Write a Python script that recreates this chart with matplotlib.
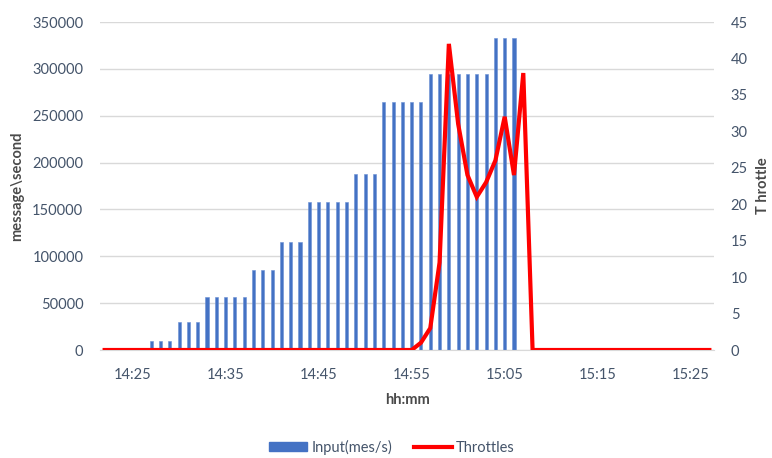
import matplotlib
matplotlib.use("Agg")
import matplotlib.pyplot as plt
from matplotlib.patches import Patch
from matplotlib.lines import Line2D

plt.rcParams['font.family'] = ['Lato', 'DejaVu Sans']

# categories: one per minute, 14:22 .. 15:27
times = ["14:22", "14:23", "14:24", "14:25", "14:26", "14:27", "14:28", "14:29",
         "14:30", "14:31", "14:32", "14:33", "14:34", "14:35", "14:36", "14:37",
         "14:38", "14:39", "14:40", "14:41", "14:42", "14:43", "14:44", "14:45",
         "14:46", "14:47", "14:48", "14:49", "14:50", "14:51", "14:52", "14:53",
         "14:54", "14:55", "14:56", "14:57", "14:58", "14:59", "15:00", "15:01",
         "15:02", "15:03", "15:04", "15:05", "15:06", "15:07", "15:08", "15:09",
         "15:10", "15:11", "15:12", "15:13", "15:14", "15:15", "15:16", "15:17",
         "15:18", "15:19", "15:20", "15:21", "15:22", "15:23", "15:24", "15:25",
         "15:26", "15:27"]

input_rate = [0, 0, 0, 0, 0,
              10000, 10000, 10000,
              30000, 30000, 30000,
              57000, 57000, 57000, 57000, 57000,
              85000, 85000, 85000,
              115000, 115000, 115000,
              158000, 158000, 158000, 158000, 158000,
              188000, 188000, 188000,
              265000, 265000, 265000, 265000, 265000,
              295000, 295000, 295000, 295000, 295000, 295000, 295000,
              333000, 333000, 333000,
              0, 0, 0, 0, 0, 0, 0, 0, 0, 0, 0, 0, 0, 0, 0, 0, 0, 0, 0, 0, 0]

throttles = [0, 0, 0, 0, 0, 0, 0, 0, 0, 0, 0, 0, 0, 0, 0, 0, 0, 0, 0, 0,
             0, 0, 0, 0, 0, 0, 0, 0, 0, 0, 0, 0, 0, 0,
             1, 3, 12, 42, 31, 24, 21, 23, 26, 32, 24, 38,
             0, 0, 0, 0, 0, 0, 0, 0, 0, 0, 0, 0, 0, 0, 0, 0, 0, 0, 0, 0]

shown_ticks = ["14:25", "14:35", "14:45", "14:55", "15:05", "15:15", "15:25"]

text_col = '#44546A'
label_col = '#4a4a4a'

fig = plt.figure(figsize=(7.72, 4.58), dpi=100)
ax = fig.add_axes([100/772, 1-350/458, 614/772, 328/458])
x = list(range(len(times)))
ax.bar(x, input_rate, width=0.33, color='#4472C4', edgecolor='#6A8FD4', linewidth=0.4, zorder=2)
ax.set_xlim(-0.5, len(times)-0.5)
ax.set_ylim(0, 350000)
ax.set_yticks(range(0, 350001, 50000))
ax.grid(axis='y', color='#D9D9D9', linewidth=1, zorder=0)
ax.set_axisbelow(True)
for s in ['top', 'right', 'left']:
    ax.spines[s].set_visible(False)
ax.spines['bottom'].set_color('#D9D9D9')
ax.tick_params(axis='both', length=0, labelsize=10.5, colors=text_col)
ax.tick_params(axis='y', pad=12)
ax.tick_params(axis='x', pad=13)
ax.set_xticks([times.index(t) for t in shown_ticks])
ax.set_xticklabels(shown_ticks)
ax.set_xlabel('hh:mm', fontsize=10.5, fontweight='bold', color=label_col, labelpad=8)
ax.set_ylabel('message\\second', fontsize=10.5, fontweight='bold', color=label_col, labelpad=6)

ax2 = ax.twinx()
ax2.plot(x, throttles, color='#FF0000', linewidth=3, solid_joinstyle='miter', zorder=3)
ax2.set_ylim(0, 45)
ax2.set_yticks(range(0, 46, 5))
for s in ['top', 'right', 'left', 'bottom']:
    ax2.spines[s].set_visible(False)
ax2.tick_params(axis='y', length=0, labelsize=10.5, colors=text_col, pad=12)
ax2.set_ylabel('T hrottle', fontsize=10.5, fontweight='bold', color=label_col, labelpad=6)

handles = [Patch(facecolor='#4472C4', edgecolor='#4472C4'),
           Line2D([0], [0], color='#FF0000', linewidth=3)]
fig.legend(handles, ['Input(mes/s)', 'Throttles'], loc='center', bbox_to_anchor=(392/772, 1-447/458),
           ncol=2, frameon=False, fontsize=10.5, labelcolor=text_col, handlelength=2.6,
           handleheight=0.5, columnspacing=1.5, handletextpad=0.3)

fig.savefig('out.png', dpi=100, facecolor='white')
